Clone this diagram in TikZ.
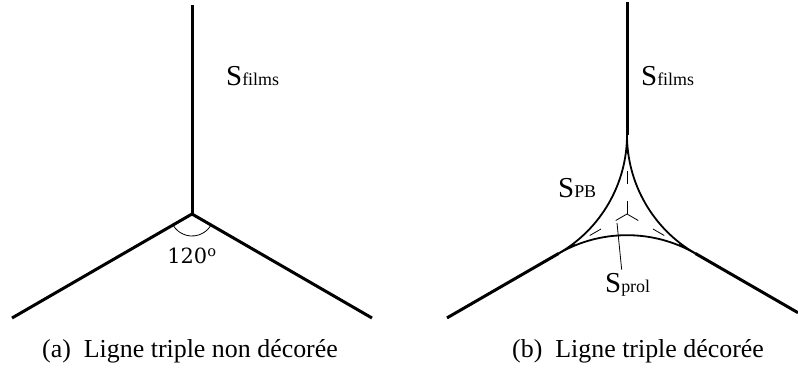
\documentclass[tikz,border=0pt]{standalone}
\usepackage{fontspec}
\setmainfont{Liberation Serif}
\newfontfamily\degfont{DejaVu Serif}
\newcommand{\surf}[1]{{\fontsize{29}{29}\selectfont S}{\fontsize{18}{18}\selectfont #1}}

\begin{document}
\begin{tikzpicture}[x=1bp, y=1bp,
  film/.style={line width=3bp, line join=miter},
  border/.style={line width=1.8bp},
  prol/.style={line width=0.8bp, dash pattern=on 13bp off 17bp},
  lbl/.style={anchor=base west, inner sep=0pt},
  capt/.style={anchor=base west, inner sep=0pt, font=\fontsize{26}{26}\selectfont}
]
  \useasboundingbox (0,0) rectangle (798,371);

  % (a) bare triple line
  \coordinate (J1) at (192,157);
  \coordinate (top1) at (192,366);
  \coordinate (left1) at (12,53);
  \coordinate (right1) at (372,53);
  \draw[film] (top1) -- (J1);
  \draw[film] (left1) -- (J1) -- (right1);
  \draw[line width=0.8bp] ([shift={(210:22)}]J1) arc[start angle=210, end angle=330, radius=22];
  \node[font=\degfont\fontsize{21}{21}\selectfont] (ang) at (192,115) {120\textsuperscript{o}};
  \node[lbl] (sfilms1) at (226,286) {\surf{films}};

  % (b) decorated triple line
  \coordinate (J2) at (627,157);
  \coordinate (top2) at (627,369);
  \coordinate (ttop) at (627,236);
  \coordinate (tleft) at (558.6,117.5);
  \coordinate (tright) at (695.4,117.5);
  \coordinate (left2) at (447,53.1);
  \coordinate (right2) at (798,58.3);
  \draw[film] (top2) -- (ttop);
  \draw[film] (tleft) -- (left2);
  \draw[film] (tright) -- (right2);

  % Plateau border
  \draw[border] (ttop) arc[start angle=0, end angle=-60, radius=136.8];
  \draw[border] (ttop) arc[start angle=180, end angle=240, radius=136.8];
  \draw[border] (tleft) arc[start angle=120, end angle=60, radius=136.8];

  % prolonged films
  \draw[prol] (J2) -- (ttop);
  \draw[prol] (J2) -- (tleft);
  \draw[prol] (J2) -- (tright);

  % Labels
  \node[lbl] (sfilms2) at (641,286) {\surf{films}};
  \node[lbl] (spb) at (558,174) {\surf{PB}};
  \node[lbl] (sprol) at (605,79) {\surf{prol}};
  \coordinate (ptip) at (617,148);
  \draw[line width=0.8bp] (ptip) -- ([xshift=-6bp, yshift=3bp]sprol.north);

  % Captions
  \node[capt] (capa) at (42,14) {(a)\enspace Ligne triple non décorée};
  \node[capt] (capb) at (512,14) {(b)\enspace Ligne triple décorée};
\end{tikzpicture}
\end{document}
